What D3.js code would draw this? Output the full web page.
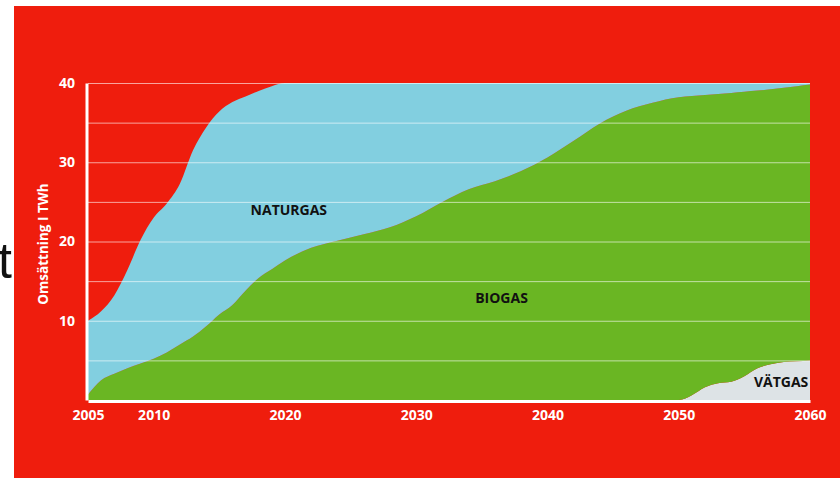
<!DOCTYPE html>
<html>
<head>
<meta charset="utf-8">
<script src="https://cdn.jsdelivr.net/npm/d3@7"></script>
<style>
  body { margin: 0; background: #fff; }
  svg { display: block; }
</style>
</head>
<body>
<svg width="840" height="478"></svg>
<script>
// years and series (TWh)
const years = [2005, 2006, 2007, 2008, 2009, 2010, 2011, 2012, 2013, 2014, 2015, 2016, 2017, 2018, 2019, 2020,
  2022, 2024, 2026, 2028, 2030, 2032, 2034, 2036, 2038, 2040, 2042, 2044, 2046, 2048,
  2050, 2051, 2052, 2053, 2054, 2055, 2056, 2057, 2058, 2059, 2060];
const vatgas = [0, 0, 0, 0, 0, 0, 0, 0, 0, 0, 0, 0, 0, 0, 0, 0,
  0, 0, 0, 0, 0, 0, 0, 0, 0, 0, 0, 0, 0, 0,
  0, 0.6, 1.6, 2.1, 2.3, 3.0, 4.0, 4.5, 4.8, 4.9, 5.0];
const biogas = [0.7, 2.5, 3.3, 4.0, 4.6, 5.2, 6.0, 7.0, 8.0, 9.3, 10.8, 12.0, 13.8, 15.4, 16.5, 17.6,
  19.2, 20.1, 20.9, 21.8, 23.2, 25.0, 26.6, 27.6, 28.9, 30.6, 32.7, 34.9, 36.5, 37.5,
  38.2, 37.75, 36.9, 36.5, 36.45, 35.9, 35.05, 34.7, 34.6, 34.7, 34.8];
const naturgas = [9.3, 8.7, 9.9, 12.4, 15.6, 17.8, 18.8, 20.3, 23.5, 25.1, 25.6, 25.6, 24.5, 23.6, 23.1, 22.4,
  20.8, 19.9, 19.1, 18.2, 16.8, 15.0, 13.4, 12.4, 11.1, 9.4, 7.3, 5.1, 3.5, 2.5,
  1.8, 1.65, 1.5, 1.4, 1.25, 1.1, 0.95, 0.8, 0.6, 0.4, 0.2];
const xTicks = [2005, 2010, 2020, 2030, 2040, 2050, 2060];
const yTicks = [10, 20, 30, 40];
const gridTicks = [5, 10, 15, 20, 25, 30, 35, 40];

const svg = d3.select('svg');
const width = +svg.attr('width');
const height = +svg.attr('height');
const font = '"Open Sans", "DejaVu Sans", sans-serif';

// red panel
svg.append('rect').attr('x', 14).attr('y', 6).attr('width', width - 14).attr('height', height - 6)
  .attr('fill', '#ef1d0d');

// stray glyph at left edge
svg.append('text').attr('x', 12).attr('y', 278).attr('text-anchor', 'end')
  .attr('font-family', '"Liberation Sans", Arial, sans-serif').attr('font-size', 50).attr('fill', '#111')
  .text('t');

const margin = { top: 83, right: 30, bottom: 78, left: 88 };
const innerWidth = width - margin.left - margin.right;
const innerHeight = height - margin.top - margin.bottom;

const data = years.map((y, i) => ({ year: y, vatgas: vatgas[i], biogas: biogas[i], naturgas: naturgas[i] }));
const keys = ['vatgas', 'biogas', 'naturgas'];
const colors = { vatgas: '#dde3e6', biogas: '#6ab623', naturgas: '#82cfe0' };

const xScale = d3.scaleLinear().domain([2005, 2060]).range([0, innerWidth]);
const yScale = d3.scaleLinear().domain([0, 40]).range([innerHeight, 0]);

const series = d3.stack().keys(keys)(data);
const area = d3.area()
  .x(d => xScale(d.data.year))
  .y0(d => yScale(d[0]))
  .y1(d => yScale(d[1]))
  .curve(d3.curveMonotoneX);

const g = svg.append('g').attr('transform', `translate(${margin.left},${margin.top})`);

g.selectAll('path.area').data(series)
  .enter().append('path')
  .attr('class', 'area')
  .attr('d', area)
  .attr('fill', d => colors[d.key]);

// gridlines on top
const grid = g.append('g').call(d3.axisLeft(yScale).tickValues(gridTicks).tickSize(-innerWidth).tickFormat(''));
grid.select('.domain').remove();
grid.selectAll('line').attr('stroke', '#fff').attr('stroke-opacity', 0.6).attr('stroke-width', 1);

// y axis
const yAxis = g.append('g').call(d3.axisLeft(yScale).tickValues(yTicks).tickSize(0).tickPadding(13));
yAxis.select('.domain').attr('stroke', '#fff').attr('stroke-width', 3).attr('transform', 'translate(-1.5,0)');
yAxis.selectAll('text').attr('fill', '#fff').attr('font-family', font).attr('font-weight', 'bold').attr('font-size', 14);

// x axis
const xAxis = g.append('g').attr('transform', `translate(0,${innerHeight})`)
  .call(d3.axisBottom(xScale).tickValues(xTicks).tickFormat(d3.format('d')).tickSize(0).tickPadding(10));
xAxis.select('.domain').attr('stroke', '#fff').attr('stroke-width', 3).attr('transform', 'translate(0,1)');
xAxis.selectAll('text').attr('fill', '#fff').attr('font-family', font).attr('font-weight', 'bold').attr('font-size', 14);

// y axis title
svg.append('text').attr('transform', 'translate(48,244) rotate(-90)')
  .attr('text-anchor', 'middle').attr('fill', '#fff')
  .attr('font-family', font).attr('font-weight', 'bold').attr('font-size', 13.5)
  .text('Omsättning I TWh');

// series labels
const labels = [
  { text: 'NATURGAS', year: 2020.3, value: 24 },
  { text: 'BIOGAS', year: 2036.5, value: 12.8 },
  { text: 'VÄTGAS', year: 2057.8, value: 2.3 }
];
g.selectAll('text.label').data(labels)
  .enter().append('text')
  .attr('class', 'label')
  .attr('x', d => xScale(d.year))
  .attr('y', d => yScale(d.value))
  .attr('dy', '0.35em')
  .attr('text-anchor', 'middle')
  .attr('font-family', font).attr('font-weight', 'bold').attr('font-size', 14)
  .attr('fill', '#111')
  .text(d => d.text);
</script>
</body>
</html>
